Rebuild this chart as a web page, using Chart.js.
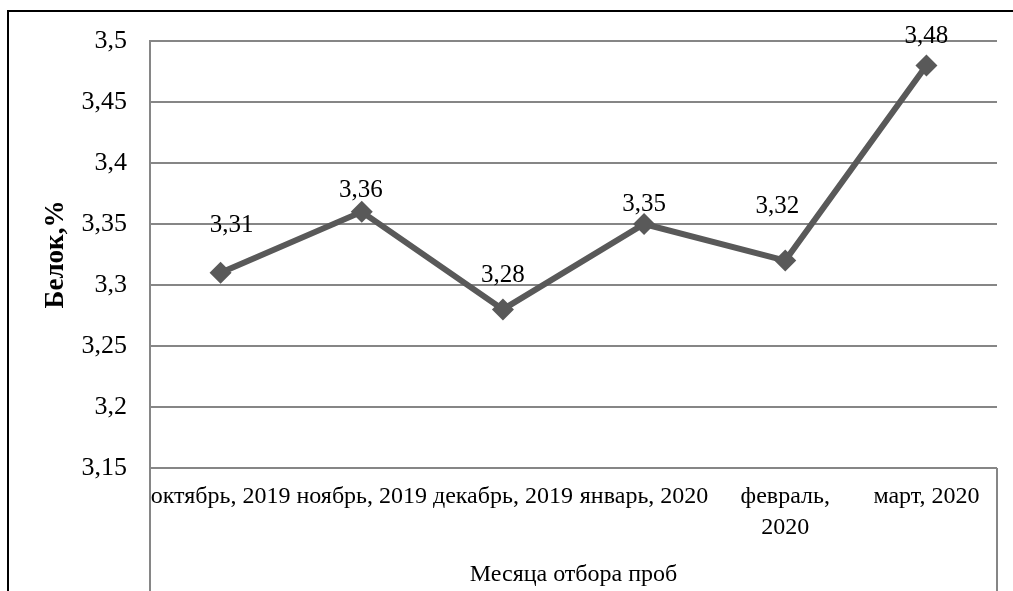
<!DOCTYPE html>
<html>
<head>
<meta charset="utf-8">
<script src="https://cdn.jsdelivr.net/npm/chart.js@4/dist/chart.umd.min.js"></script>
<style>
    html, body { margin: 0; padding: 0; background: #fff; overflow: hidden; }
    #wrap { position: relative; width: 1013px; height: 591px; }
    #frame { position: absolute; left: 7px; top: 10px; width: 1100px; height: 700px; border: 2px solid #000; box-sizing: border-box; }
    canvas { position: absolute; left: 0; top: 0; }
</style>
</head>
<body>
<div id="wrap">
    <div id="frame"></div>
    <canvas id="proteinChart" width="1013" height="591"></canvas>
</div>
<script>
// данные графика
const months = [
    "октябрь, 2019",
    "ноябрь, 2019",
    "декабрь, 2019",
    "январь, 2020",
    ["февраль,", "2020"],
    "март, 2020"
];
const protein = [3.31, 3.36, 3.28, 3.35, 3.32, 3.48];
const yTicks = [3.15, 3.2, 3.25, 3.3, 3.35, 3.4, 3.45, 3.5];

// сдвиг подписей данных относительно точки (пиксели), как в оригинале
const labelNudge = [[11, -47], [-1, -21], [0, -34], [0, -20], [-8, -54], [0, -29]];

const fmt = v => String(Math.round(v * 100) / 100).replace(".", ",");
const serif = "'Liberation Serif', 'Times New Roman', serif";

const dataLabels = {
    id: "dataLabels",
    afterDatasetsDraw(chart) {
        const ctx = chart.ctx;
        const meta = chart.getDatasetMeta(0);
        ctx.save();
        ctx.font = "25px " + serif;
        ctx.fillStyle = "#000";
        ctx.textAlign = "center";
        ctx.textBaseline = "middle";
        meta.data.forEach((pt, i) => {
            const [dx, dy] = labelNudge[i];
            ctx.fillText(fmt(protein[i]), pt.x + dx, pt.y + dy);
        });
        ctx.restore();
    }
};

const lowerLines = {
    id: "lowerLines",
    beforeDatasetsDraw(chart) {
        const { ctx, chartArea } = chart;
        ctx.save();
        ctx.strokeStyle = "#868686";
        ctx.lineWidth = 2;
        ctx.beginPath();
        ctx.moveTo(chartArea.left, chartArea.bottom);
        ctx.lineTo(chartArea.left, chart.height);
        ctx.moveTo(chartArea.right, chartArea.bottom);
        ctx.lineTo(chartArea.right, chart.height);
        ctx.stroke();
        ctx.restore();
    }
};

const ctx = document.getElementById("proteinChart").getContext("2d");
new Chart(ctx, {
    type: "line",
    data: {
        labels: months,
        datasets: [{
            data: protein,
            borderColor: "#595959",
            backgroundColor: "#595959",
            borderWidth: 6,
            pointStyle: "rectRot",
            pointRadius: 11,
            pointBorderWidth: 0,
            tension: 0
        }]
    },
    options: {
        responsive: false,
        animation: false,
        events: [],
        layout: { padding: { left: 36, top: 41, right: 16, bottom: 2 } },
        plugins: {
            legend: { display: false },
            tooltip: { enabled: false }
        },
        scales: {
            x: {
                offset: true,
                grid: { display: false, drawTicks: false },
                border: { display: false },
                ticks: {
                    autoSkip: false,
                    maxRotation: 0,
                    minRotation: 0,
                    padding: 13,
                    color: "#000",
                    font: { family: serif, size: 24, lineHeight: 1.3 }
                },
                title: {
                    display: true,
                    text: "Месяца отбора проб",
                    color: "#000",
                    padding: { top: 12, bottom: 0 },
                    font: { family: serif, size: 24 }
                },
                afterFit(scale) { scale.height = 121; }
            },
            y: {
                min: 3.15,
                max: 3.5,
                afterBuildTicks(scale) { scale.ticks = yTicks.map(v => ({ value: v })); },
                grid: { color: "#868686", lineWidth: 2, drawTicks: false },
                border: { display: true, color: "#868686", width: 2 },
                ticks: {
                    padding: 23,
                    color: "#000",
                    font: { family: serif, size: 26 },
                    callback: v => fmt(v)
                },
                title: {
                    display: true,
                    text: "Белок,%",
                    color: "#000",
                    padding: 4,
                    font: { family: serif, size: 27, weight: "bold" }
                },
                afterFit(scale) { scale.width = 114; }
            }
        }
    },
    plugins: [lowerLines, dataLabels]
});
</script>
</body>
</html>
